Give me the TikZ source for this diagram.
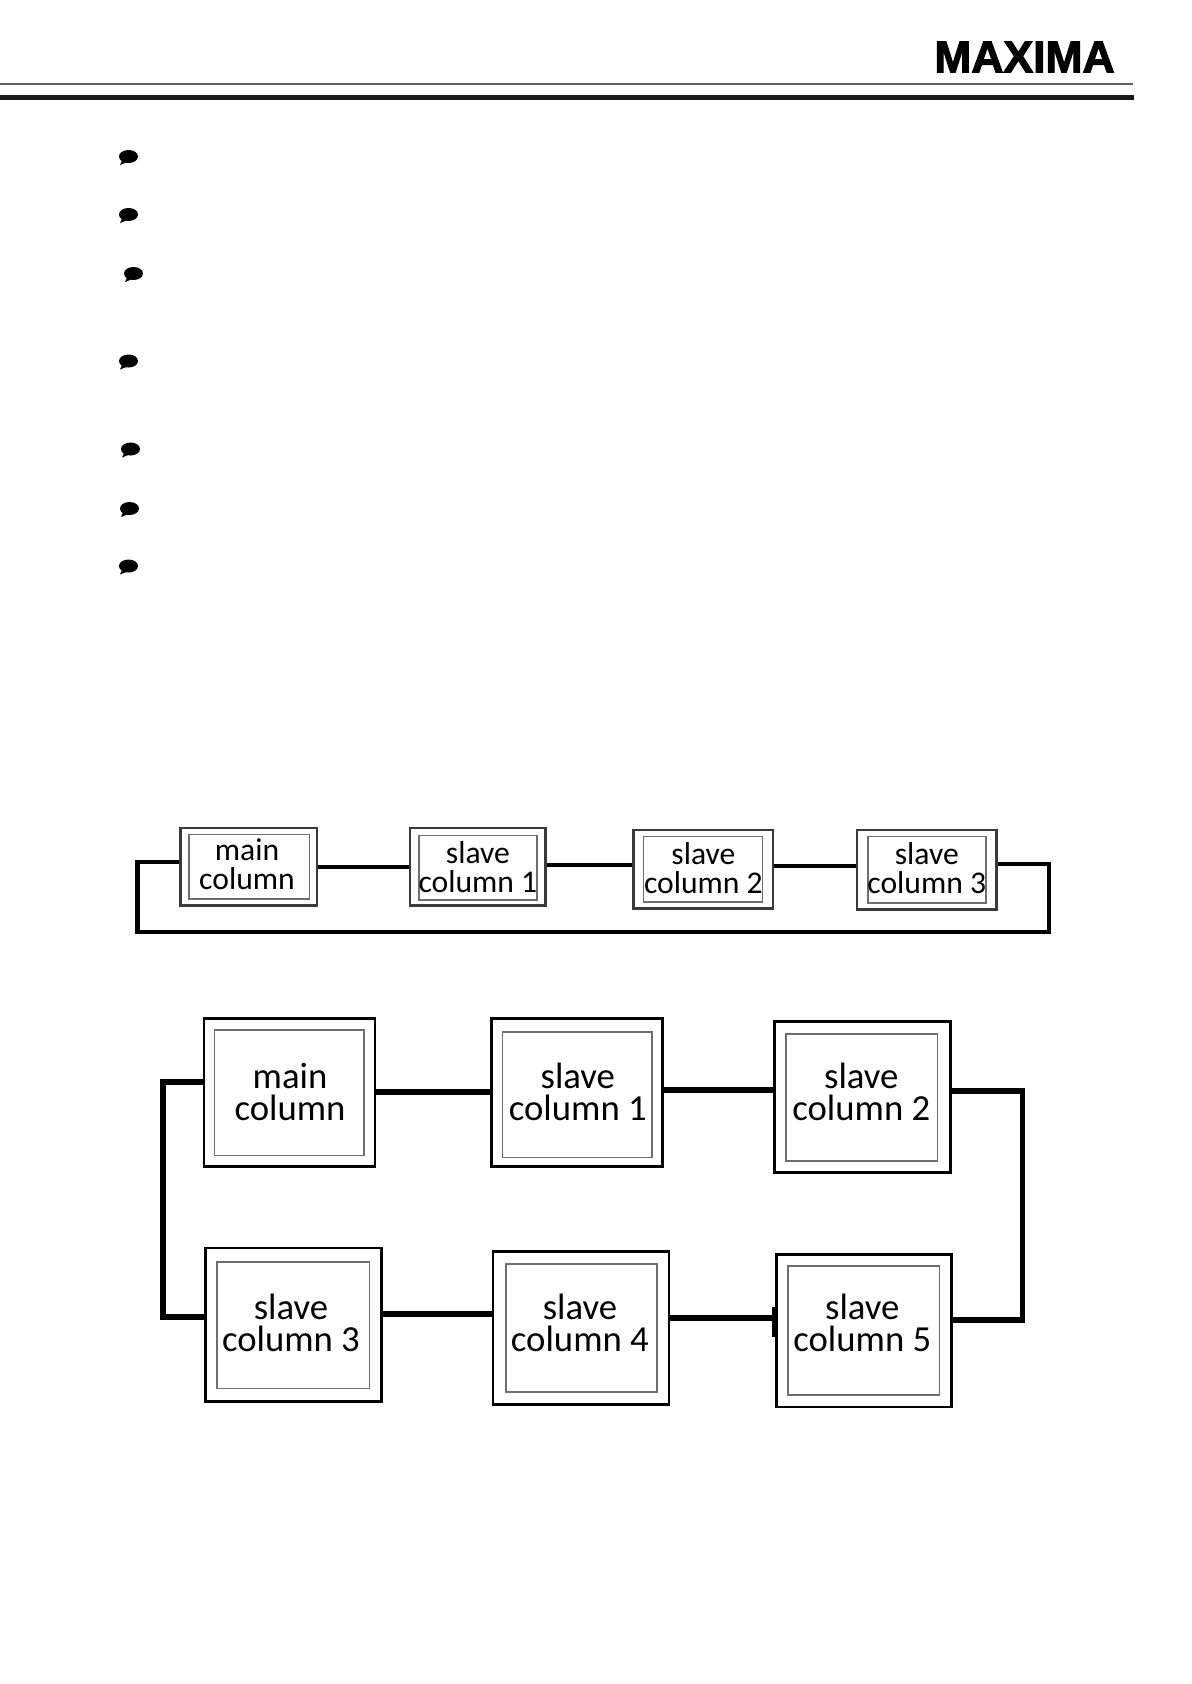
\documentclass[tikz,border=0pt]{standalone}
\usepackage{fontspec}
\setmainfont{Carlito}
\newfontfamily\logofont[FakeBold=2.5]{Liberation Sans Bold}
\usepackage{xcolor}
\usepackage{tikz}
\definecolor{framegray}{HTML}{3A3A3A}
\definecolor{innergray}{HTML}{6E6E6E}

\begin{document}
\begin{tikzpicture}[
      x=0.02cm,y=-0.02cm,
      outerbox/.style={draw=framegray,line width=1.5pt,inner sep=0pt},
      innerbox/.style={draw=innergray,line width=0.9pt,inner sep=0pt},
      smalltext/.style={align=center,inner sep=0pt,font=\fontsize{18}{16.4}\selectfont},
      bigtext/.style={align=center,inner sep=0pt,font=\fontsize{20.9}{17.8}\selectfont},
      wire/.style={line width=2.3pt,line join=miter},
      bigwire/.style={line width=3.3pt,line join=miter},
      speechmark/.pic={
        \fill (0,0) ellipse [x radius=9.5,y radius=6.5];
        \fill (-6,3) -- (-8.5,8.5) -- (-1,5.5) -- cycle;
      }
  ]
    \useasboundingbox (0,0) rectangle (1192,1684);

    % header
    \node[font=\logofont\fontsize{25.3}{25.3}\selectfont,inner sep=0pt] (logo) at (1024.5,57) {MAXIMA};
    \draw[framegray!80,line width=1.2pt] (0,84) -- (1133,84);
    \draw[black!90,line width=2.4pt] (0,97.5) -- (1134,97.5);

    % bullets
    \pic at (128.5,156.5) {speechmark};
    \pic at (128.5,214.5) {speechmark};
    \pic at (133.5,273.5) {speechmark};
    \pic at (128.5,361) {speechmark};
    \pic at (130.5,449) {speechmark};
    \pic at (129.5,508.5) {speechmark};
    \pic at (128.5,566) {speechmark};

    % four column ring
    \node[outerbox,minimum width=2.73cm,minimum height=1.55cm] (topmain) at (248.6,866.6) {};
    \node[outerbox,minimum width=2.71cm,minimum height=1.55cm] (topa) at (477.9,866.6) {};
    \node[outerbox,minimum width=2.79cm,minimum height=1.57cm] (topb) at (703.4,869.3) {};
    \node[outerbox,minimum width=2.79cm,minimum height=1.59cm] (topc) at (926.8,869.9) {};
    \node[innerbox,minimum width=2.41cm,minimum height=1.29cm] (topmainin) at (249.1,866.6) {};
    \node[innerbox,minimum width=2.36cm,minimum height=1.29cm] (topain) at (477.9,867.7) {};
    \node[innerbox,minimum width=2.38cm,minimum height=1.31cm] (topbin) at (702.9,869.3) {};
    \node[innerbox,minimum width=2.36cm,minimum height=1.33cm] (topcin) at (926.8,869.9) {};
    \node[smalltext] (topmaintxt) at (247,864.4) {main\\column};
    \node[smalltext] (topatxt) at (477.9,867.5) {slave\\column 1};
    \node[smalltext] (topbtxt) at (703.4,868.5) {slave\\column 2};
    \node[smalltext] (topctxt) at (926.8,868.5) {slave\\column 3};

    \draw[wire] (topmain.east |- 0,867) -- (topa.west |- 0,867);
    \draw[wire] (topa.east |- 0,865) -- (topb.west |- 0,865);
    \draw[wire] (topb.east |- 0,866) -- (topc.west |- 0,866);
    \draw[wire] (topc.east |- 0,864) -- (1049,864) -- (1049,932) -- (137.5,932) -- (137.5,862) -- (topmain.west |- 0,862);

    % six column ring
    \node[outerbox,draw=black,minimum width=3.42cm,minimum height=2.96cm] (main) at (289.4,1092.2) {};
    \node[outerbox,draw=black,minimum width=3.42cm,minimum height=2.96cm] (sa) at (577.2,1092.2) {};
    \node[outerbox,draw=black,minimum width=3.52cm,minimum height=3.03cm] (sb) at (862.3,1097) {};
    \node[outerbox,draw=black,minimum width=3.52cm,minimum height=3.07cm] (sc) at (293.2,1324.6) {};
    \node[outerbox,draw=black,minimum width=3.52cm,minimum height=3.07cm] (sd) at (581,1327.9) {};
    \node[outerbox,draw=black,minimum width=3.5cm,minimum height=3.05cm] (se) at (863.9,1330.6) {};
    \node[innerbox,minimum width=2.99cm,minimum height=2.51cm] (mainin) at (289.4,1092.7) {};
    \node[innerbox,minimum width=2.99cm,minimum height=2.51cm] (sain) at (577.2,1094.8) {};
    \node[innerbox,minimum width=3.03cm,minimum height=2.53cm] (sbin) at (861.8,1097.5) {};
    \node[innerbox,minimum width=3.05cm,minimum height=2.53cm] (scin) at (293.2,1325.2) {};
    \node[innerbox,minimum width=3.03cm,minimum height=2.56cm] (sdin) at (581.5,1327.9) {};
    \node[innerbox,minimum width=3.03cm,minimum height=2.58cm] (sein) at (863.9,1330.6) {};
    \node[bigtext] (maintxt) at (290,1092) {main\\column};
    \node[bigtext] (satxt) at (577.8,1092) {slave\\column 1};
    \node[bigtext] (sbtxt) at (861.3,1092) {slave\\column 2};
    \node[bigtext] (sctxt) at (291,1323) {slave\\column 3};
    \node[bigtext] (sdtxt) at (579.9,1323) {slave\\column 4};
    \node[bigtext] (setxt) at (862.3,1323) {slave\\column 5};

    \draw[bigwire] (main.east |- 0,1092) -- (sa.west |- 0,1092);
    \draw[bigwire] (sa.east |- 0,1090) -- (sb.west |- 0,1090);
    \draw[bigwire] (sb.east |- 0,1091) -- (1022.4,1091) -- (1022.4,1320) -- (se.east |- 0,1320);
    \draw[bigwire] (main.west |- 0,1082) -- (163.2,1082) -- (163.2,1317) -- (sc.west |- 0,1317);
    \draw[bigwire] (sc.east |- 0,1314) -- (sd.west |- 0,1314);
    \draw[bigwire] (sd.east |- 0,1318) -- (se.west |- 0,1318);
    \draw[bigwire] (se.west |- 0,1307) -- (se.west |- 0,1337);
  \end{tikzpicture}
\end{document}
